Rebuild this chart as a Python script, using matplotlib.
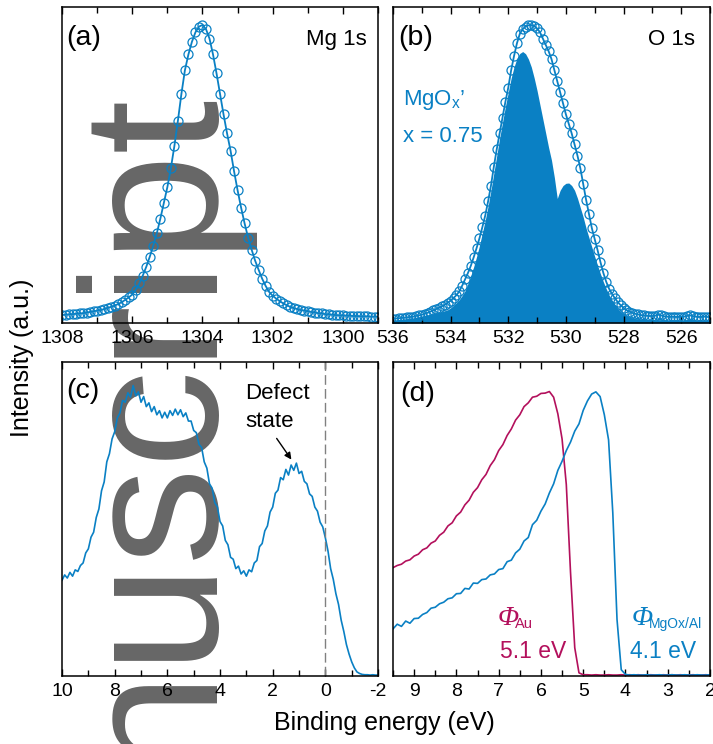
import numpy as np
import matplotlib
matplotlib.use("Agg")
import matplotlib.pyplot as plt
from matplotlib.ticker import MultipleLocator

plt.rcParams['font.family'] = ['Liberation Sans', 'DejaVu Sans']
plt.rcParams['axes.unicode_minus'] = False
plt.rcParams['mathtext.fontset'] = 'custom'
plt.rcParams['mathtext.rm'] = 'Liberation Sans'

blue = '#0a80c4'
magenta = '#b3105c'

# (a) Mg 1s core level, normalised intensity, 0.1 eV steps
mg_energy = np.round(np.arange(1308.0, 1298.95, -0.1), 1)
mg_counts = [0.025, 0.026, 0.027, 0.028, 0.029, 0.030, 0.031, 0.033, 0.035, 0.037,
             0.039, 0.041, 0.044, 0.048, 0.051, 0.055, 0.060, 0.066, 0.073, 0.081,
             0.090, 0.105, 0.125, 0.150, 0.178, 0.210, 0.245, 0.284, 0.330, 0.380,
             0.430, 0.490, 0.560, 0.640, 0.725, 0.800, 0.850, 0.890, 0.920, 0.938,
             0.943, 0.930, 0.900, 0.850, 0.790, 0.725, 0.660, 0.600, 0.545, 0.480,
             0.420, 0.365, 0.315, 0.270, 0.232, 0.197, 0.168, 0.140, 0.117, 0.098,
             0.086, 0.077, 0.069, 0.062, 0.056, 0.051, 0.047, 0.044, 0.041, 0.039,
             0.037, 0.035, 0.033, 0.031, 0.030, 0.028, 0.027, 0.026, 0.025, 0.024,
             0.024, 0.023, 0.023, 0.022, 0.022, 0.021, 0.021, 0.021, 0.020, 0.020,
             0.020]

# (b) O 1s core level: envelope and lattice-oxygen component
o_energy = np.round(np.arange(536.0, 524.95, -0.1), 1)
o_counts = [0.014, 0.014, 0.015, 0.016, 0.017, 0.018, 0.019, 0.020, 0.022, 0.024,
            0.026, 0.029, 0.032, 0.036, 0.040, 0.044, 0.048, 0.053, 0.058, 0.064,
            0.071, 0.079, 0.088, 0.100, 0.118, 0.138, 0.158, 0.181, 0.208, 0.237,
            0.268, 0.303, 0.340, 0.385, 0.435, 0.495, 0.550, 0.600, 0.650, 0.700,
            0.745, 0.800, 0.845, 0.885, 0.915, 0.930, 0.938, 0.942, 0.943, 0.940,
            0.932, 0.920, 0.900, 0.880, 0.860, 0.835, 0.800, 0.765, 0.730, 0.695,
            0.660, 0.630, 0.600, 0.565, 0.530, 0.490, 0.440, 0.390, 0.345, 0.300,
            0.265, 0.230, 0.192, 0.158, 0.130, 0.108, 0.092, 0.078, 0.066, 0.056,
            0.048, 0.041, 0.036, 0.032, 0.029, 0.027, 0.025, 0.024, 0.023, 0.022,
            0.022, 0.023, 0.026, 0.024, 0.021, 0.020, 0.019, 0.020, 0.019, 0.019,
            0.020, 0.020, 0.022, 0.024, 0.022, 0.020, 0.019, 0.019, 0.020, 0.019,
            0.019]
o_lattice = [0.010, 0.010, 0.011, 0.012, 0.013, 0.014, 0.015, 0.016, 0.018, 0.020,
             0.022, 0.024, 0.026, 0.028, 0.029, 0.031, 0.033, 0.036, 0.039, 0.042,
             0.048, 0.056, 0.064, 0.074, 0.087, 0.102, 0.125, 0.150, 0.178, 0.210,
             0.245, 0.285, 0.325, 0.370, 0.420, 0.475, 0.530, 0.585, 0.635, 0.685,
             0.730, 0.775, 0.810, 0.838, 0.853, 0.859, 0.852, 0.835, 0.810, 0.775,
             0.735, 0.690, 0.645, 0.600, 0.555, 0.515, 0.460, 0.394, 0.420, 0.435,
             0.442, 0.443, 0.435, 0.420, 0.395, 0.365, 0.335, 0.300, 0.270, 0.240,
             0.210, 0.182, 0.155, 0.130, 0.108, 0.088, 0.072, 0.058, 0.046, 0.036,
             0.029, 0.023, 0.019, 0.016, 0.014, 0.013, 0.012, 0.011, 0.010, 0.010,
             0.010, 0.010, 0.010, 0.010, 0.010, 0.010, 0.010, 0.010, 0.010, 0.010,
             0.010, 0.010, 0.010, 0.010, 0.010, 0.010, 0.010, 0.010, 0.010, 0.010,
             0.010]

# (c) valence band
vb_energy = np.round(np.arange(10.0, -2.05, -0.1), 1)
vb_counts = [0.305, 0.322, 0.312, 0.330, 0.318, 0.338, 0.333, 0.352, 0.360, 0.392,
             0.405, 0.442, 0.458, 0.505, 0.532, 0.590, 0.618, 0.682, 0.708, 0.755,
             0.778, 0.822, 0.838, 0.878, 0.872, 0.902, 0.888, 0.925, 0.892, 0.905,
             0.872, 0.890, 0.858, 0.870, 0.842, 0.858, 0.832, 0.845, 0.822, 0.840,
             0.822, 0.845, 0.830, 0.850, 0.832, 0.848, 0.826, 0.838, 0.812, 0.812,
             0.782, 0.775, 0.738, 0.728, 0.682, 0.662, 0.612, 0.598, 0.552, 0.538,
             0.492, 0.478, 0.432, 0.418, 0.378, 0.372, 0.342, 0.350, 0.325, 0.335,
             0.318, 0.338, 0.332, 0.360, 0.368, 0.412, 0.422, 0.462, 0.478, 0.522,
             0.538, 0.582, 0.592, 0.632, 0.625, 0.658, 0.640, 0.672, 0.655, 0.678,
             0.645, 0.652, 0.620, 0.612, 0.580, 0.572, 0.538, 0.525, 0.490, 0.475,
             0.440, 0.398, 0.342, 0.308, 0.262, 0.228, 0.178, 0.142, 0.100, 0.070,
             0.045, 0.026, 0.013, 0.008, 0.005, 0.004, 0.004, 0.003, 0.004, 0.003,
             0.003]

# (d) secondary electron cut-off
se_energy = np.round(np.arange(9.5, 1.95, -0.1), 1)
se_au = [0.345, 0.352, 0.356, 0.366, 0.370, 0.382, 0.388, 0.402, 0.408, 0.423,
         0.430, 0.448, 0.458, 0.478, 0.488, 0.510, 0.522, 0.545, 0.560, 0.585,
         0.600, 0.625, 0.642, 0.670, 0.689, 0.718, 0.737, 0.766, 0.787, 0.815,
         0.832, 0.858, 0.870, 0.888, 0.891, 0.900, 0.901, 0.906, 0.888, 0.835,
         0.755, 0.610, 0.330, 0.090, 0.010, 0.004,
         0.004, 0.003, 0.004, 0.003, 0.003, 0.004, 0.003, 0.003, 0.004, 0.003,
         0.004, 0.003, 0.004, 0.003, 0.003, 0.004, 0.003, 0.003, 0.004, 0.003,
         0.004, 0.003, 0.004, 0.003, 0.003, 0.004, 0.003, 0.003, 0.004, 0.003]
se_mgox = [0.150, 0.165, 0.158, 0.175, 0.168, 0.183, 0.184, 0.196, 0.202, 0.216,
           0.219, 0.230, 0.235, 0.246, 0.249, 0.262, 0.263, 0.279, 0.277, 0.296,
           0.295, 0.307, 0.309, 0.322, 0.325, 0.339, 0.342, 0.364, 0.369, 0.392,
           0.404, 0.430, 0.441, 0.482, 0.496, 0.525, 0.548, 0.583, 0.612, 0.655,
           0.684, 0.718, 0.745, 0.780, 0.803, 0.846, 0.876, 0.898, 0.905, 0.890,
           0.832, 0.752, 0.520, 0.180, 0.020, 0.005,
           0.003, 0.004, 0.003, 0.003, 0.004, 0.003, 0.003, 0.004, 0.003, 0.003,
           0.004, 0.003, 0.003, 0.004, 0.003, 0.003, 0.004, 0.003, 0.003, 0.004]


def style(ax, xlim, major, minor):
    ax.set_xlim(*xlim)
    ax.set_ylim(0, 1)
    ax.xaxis.set_major_locator(MultipleLocator(major))
    ax.xaxis.set_minor_locator(MultipleLocator(minor))
    ax.set_yticks([])
    ax.tick_params(axis='x', which='both', direction='in', top=True, bottom=True,
                   labelsize=14, pad=5, width=1)
    ax.tick_params(axis='x', which='major', length=5)
    ax.tick_params(axis='x', which='minor', length=4)
    for s in ax.spines.values():
        s.set_linewidth(1.1)
    ax.set_facecolor('none')


fig = plt.figure(figsize=(7.13, 7.44), dpi=100)
ax_a = fig.add_axes([0.0870, 0.5659, 0.4432, 0.4247])
ax_b = fig.add_axes([0.5512, 0.5659, 0.4446, 0.4247])
ax_c = fig.add_axes([0.0870, 0.0914, 0.4432, 0.4220])
ax_d = fig.add_axes([0.5512, 0.0914, 0.4446, 0.4220])

# (a)
ax_a.plot(mg_energy, mg_counts, 'o', ms=6.5, mfc='none', mec=blue, mew=0.9)
ax_a.plot(mg_energy, mg_counts, '-', color=blue, lw=1.3)
style(ax_a, (1308, 1299), 2, 1)
ax_a.text(0.013, 0.880, '(a)', transform=ax_a.transAxes, fontsize=20.5, va='baseline')
ax_a.text(0.965, 0.880, 'Mg 1s', transform=ax_a.transAxes, fontsize=16,
          ha='right', va='baseline')

# (b)
ax_b.fill_between(o_energy, 0, o_lattice, color=blue, lw=0)
ax_b.plot(o_energy, o_counts, 'o', ms=6.5, mfc='none', mec=blue, mew=0.9)
ax_b.plot(o_energy, o_counts, '-', color=blue, lw=1.3)
style(ax_b, (536, 525), 2, 1)
ax_b.text(0.016, 0.880, '(b)', transform=ax_b.transAxes, fontsize=20.5, va='baseline')
ax_b.text(0.953, 0.880, 'O 1s', transform=ax_b.transAxes, fontsize=16,
          ha='right', va='baseline')
ax_b.text(0.030, 0.690, 'MgO$_\\mathregular{x}$\u2019', transform=ax_b.transAxes,
          fontsize=16, color=blue, va='baseline')
ax_b.text(0.030, 0.574, 'x = 0.75', transform=ax_b.transAxes,
          fontsize=16, color=blue, va='baseline')

# (c)
ax_c.plot(vb_energy, vb_counts, '-', color=blue, lw=1.2)
ax_c.axvline(0, color='#808080', lw=1.0, dashes=(7, 3))
style(ax_c, (10, -2), 2, 1)
ax_c.text(0.013, 0.885, '(c)', transform=ax_c.transAxes, fontsize=20.5, va='baseline')
ax_c.text(0.580, 0.882, 'Defect', transform=ax_c.transAxes, fontsize=16, va='baseline')
ax_c.text(0.580, 0.793, 'state', transform=ax_c.transAxes, fontsize=16, va='baseline')
ax_c.annotate('', xy=(1.23, 0.682), xytext=(1.91, 0.764),
              arrowprops=dict(arrowstyle='-|>', color='black', lw=1.0, mutation_scale=10))

# (d)
ax_d.plot(se_energy, se_au, '-', color=magenta, lw=1.2)
ax_d.plot(se_energy, se_mgox, '-', color=blue, lw=1.2)
style(ax_d, (9.5, 2), 1, 0.5)
ax_d.text(0.022, 0.876, '(d)', transform=ax_d.transAxes, fontsize=20.5, va='baseline')
ax_d.text(0.331, 0.162, '\u03a6', transform=ax_d.transAxes, fontsize=20,
          family='Liberation Serif', style='italic', color=magenta, va='baseline')
ax_d.text(0.385, 0.153, 'Au', transform=ax_d.transAxes, fontsize=10.5,
          color=magenta, va='baseline')
ax_d.text(0.337, 0.057, '5.1 eV', transform=ax_d.transAxes, fontsize=16.5,
          color=magenta, va='baseline')
ax_d.text(0.754, 0.162, '\u03a6', transform=ax_d.transAxes, fontsize=20,
          family='Liberation Serif', style='italic', color=blue, va='baseline')
ax_d.text(0.808, 0.153, 'MgOx/Al', transform=ax_d.transAxes, fontsize=10,
          color=blue, va='baseline')
ax_d.text(0.748, 0.057, '4.1 eV', transform=ax_d.transAxes, fontsize=16.5,
          color=blue, va='baseline')

fig.text(0.031, 0.519, 'Intensity (a.u.)', rotation=90, fontsize=18,
         ha='center', va='center')
fig.text(0.539, 0.028, 'Binding energy (eV)', fontsize=18, ha='center', va='center')

# watermark left over from the accepted-manuscript pdf
fig.text(218 / 713, 1 - 100 / 744, 'Accepted Manuscript', rotation=90,
         rotation_mode='anchor', ha='right', va='baseline', fontsize=140,
         color='#666666', family='Liberation Sans', zorder=-1)

fig.savefig('out.png', dpi=100)
